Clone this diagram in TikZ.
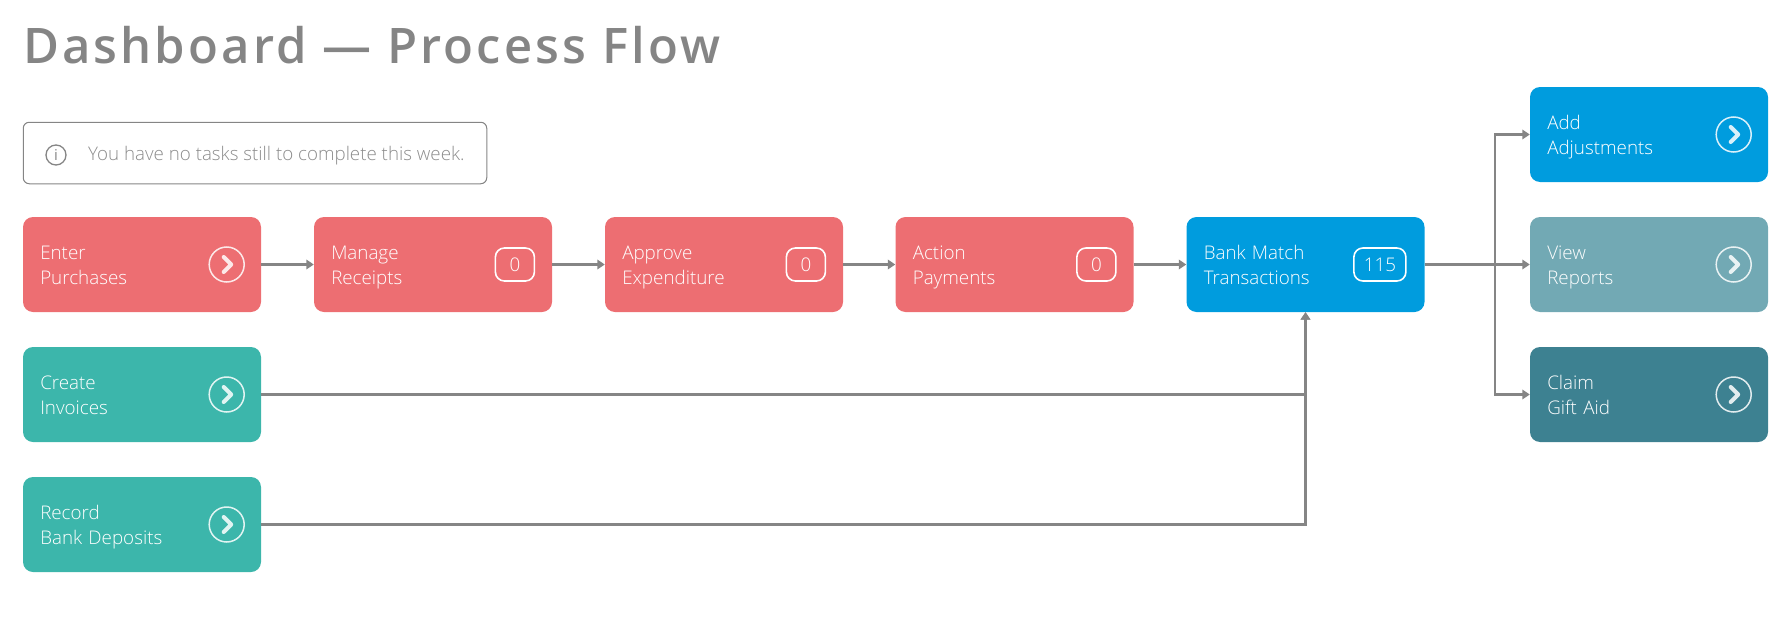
\documentclass[tikz,border=0pt]{standalone}
\usepackage{fontspec}
\usetikzlibrary{arrows.meta}
\setmainfont{Open Sans}
\newfontfamily\lightfont{Open Sans Light}
\newfontfamily\titlefont[LetterSpace=6.3]{Open Sans Semibold}
\definecolor{coral}{HTML}{ED6E72}
\definecolor{jade}{HTML}{3CB6AB}
\definecolor{azure}{HTML}{009CDE}
\definecolor{haze}{HTML}{72A9B4}
\definecolor{deep}{HTML}{3D8191}
\definecolor{wire}{HTML}{858585}
\newcommand\tiletext[2]{\rule{0pt}{20pt}#1\\\rule[-5.4pt]{0pt}{5.4pt}#2}
\tikzset{
	tile/.style={rounded corners=10pt, minimum width=238pt, minimum height=95pt, text width=203.5pt, inner sep=0pt, align=left, text=white, font=\lightfont\fontsize{18.8}{25}\selectfont},
	flow/.style={draw=wire, line width=2.05pt, -{Stealth[inset=0pt,length=7.5pt,width=9.5pt]}},
	go/.style={circle, draw=white, draw opacity=.85, line width=1.5pt, minimum size=35pt, inner sep=0pt, path picture={\draw[white, line width=4pt, line cap=round, line join=round] ([shift={(-3,-7.5)}]path picture bounding box.center) -- ([shift={(4.5,0)}]path picture bounding box.center) -- ([shift={(-3,7.5)}]path picture bounding box.center);}},
	tally/.style={draw=white, line width=1.6pt, rounded corners=9pt, minimum height=33pt, inner sep=0pt, text=white, font=\lightfont\fontsize{18.8}{22}\selectfont},
}
\begin{document}
\begin{tikzpicture}[x=1pt, y=-1pt]
	\useasboundingbox (0, 0) rectangle (1792, 632);
	\node[anchor=base west, inner sep=0pt, text=wire, font=\titlefont\fontsize{49}{56}\selectfont] (title) at (23, 63) {Dashboard — Process Flow};
	% notice
	\node[draw=wire, line width=1pt, rounded corners=6pt, minimum width=463.5pt, minimum height=61.5pt, inner sep=0pt] (notice) at (255, 153) {};
	\node[circle, draw=wire, line width=1.3pt, minimum size=20pt, inner sep=0pt, text=wire, font=\fontsize{15}{15}\selectfont] (icon) at (56, 155) {i};
	\node[anchor=base west, inner sep=0pt, text=black!45, font=\lightfont\fontsize{18.75}{22}\selectfont] (message) at (88, 160.5) {You have no tasks still to complete this week.};
	% tiles
	\node[tile, fill=coral] (enter) at (142, 264.5) {\tiletext{Enter}{Purchases}};
	\node[tile, fill=coral] (manage) at (433, 264.5) {\tiletext{Manage}{Receipts}};
	\node[tile, fill=coral] (approve) at (724, 264.5) {\tiletext{Approve}{Expenditure}};
	\node[tile, fill=coral] (action) at (1014.5, 264.5) {\tiletext{Action}{Payments}};
	\node[tile, fill=azure] (bank) at (1305.5, 264.5) {\tiletext{Bank Match}{Transactions}};
	\node[tile, fill=jade] (create) at (142, 394.5) {\tiletext{Create}{Invoices}};
	\node[tile, fill=jade] (record) at (142, 524.5) {\tiletext{Record}{Bank Deposits}};
	\node[tile, fill=azure] (add) at (1649, 134.5) {\tiletext{Add}{Adjustments}};
	\node[tile, fill=haze] (view) at (1649, 264.5) {\tiletext{View}{Reports}};
	\node[tile, fill=deep] (claim) at (1649, 394.5) {\tiletext{Claim}{Gift Aid}};
	% buttons and counts
	\foreach \tile in {enter, create, record, add, view, claim}
		\node[go] (\tile go) at ([xshift=-34.5pt]\tile.east) {};
	\node[tally, minimum width=39pt, anchor=east] (managecount) at ([xshift=-17pt]manage.east) {0};
	\node[tally, minimum width=39pt, anchor=east] (approvecount) at ([xshift=-17pt]approve.east) {0};
	\node[tally, minimum width=39pt, anchor=east] (actioncount) at ([xshift=-17pt]action.east) {0};
	\node[tally, minimum width=52pt, anchor=east] (bankcount) at ([xshift=-18pt]bank.east) {115};
	% connectors
	\draw[flow] (enter) -- (manage);
	\draw[flow] (manage) -- (approve);
	\draw[flow] (approve) -- (action);
	\draw[flow] (action) -- (bank);
	\draw[flow] (create.east) -| (bank.south);
	\draw[flow] (record.east) -| (bank.south);
	\coordinate (fork) at (1495, 264.5);
	\draw[flow] (bank) -- (view);
	\draw[flow] (fork) |- (add.west);
	\draw[flow] (fork) |- (claim.west);
\end{tikzpicture}
\end{document}
